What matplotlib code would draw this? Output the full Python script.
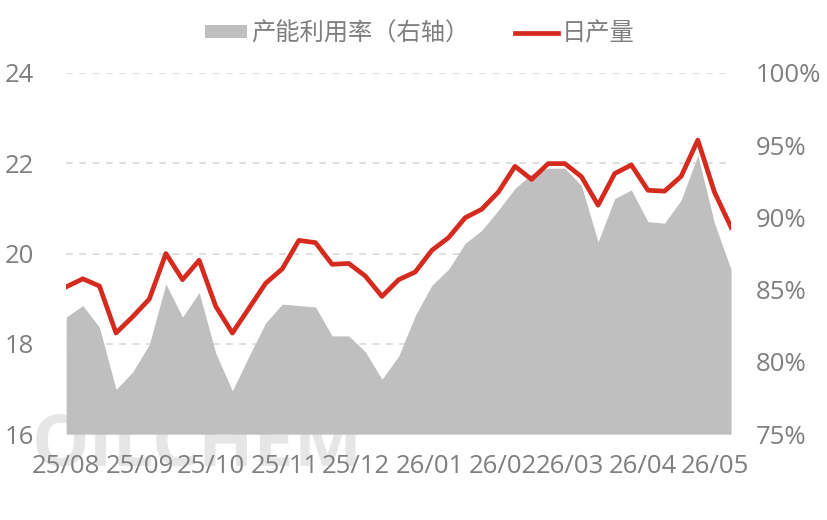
import matplotlib
matplotlib.use('Agg')
import matplotlib.pyplot as plt
import matplotlib.dates as mdates
from matplotlib.ticker import FuncFormatter
import pandas as pd

plt.rcParams['font.family'] = ['Open Sans', 'Noto Sans CJK SC', 'DejaVu Sans']

dates = pd.date_range('2025-08-01', periods=41, freq='7D')

# 日产量 (left axis)
output = [19.26, 19.44, 19.28, 18.24, 18.60, 18.99, 20.00, 19.42, 19.85, 18.83,
          18.24, 18.79, 19.34, 19.66, 20.29, 20.24, 19.76, 19.78, 19.50, 19.05,
          19.42, 19.59, 20.07, 20.35, 20.79, 20.98, 21.36, 21.93, 21.64, 21.99,
          21.99, 21.70, 21.07, 21.77, 21.96, 21.40, 21.38, 21.71, 22.51, 21.36,
          20.58]

# 产能利用率 (right axis, %)
util = [83.1, 83.9, 82.4, 78.1, 79.3, 81.2, 85.4, 83.1, 84.8, 80.6,
        78.0, 80.4, 82.7, 84.0, 83.9, 83.8, 81.8, 81.8, 80.7, 78.8,
        80.4, 83.2, 85.3, 86.4, 88.2, 89.1, 90.5, 92.0, 93.0, 93.4,
        93.4, 92.2, 88.3, 91.3, 91.9, 89.7, 89.6, 91.2, 94.3, 89.6,
        86.4]

txt = '#7f7f7f'
fig = plt.figure(figsize=(8.27, 5.2), dpi=100)
ax = fig.add_axes([0.080, 0.165, 0.804, 0.695])
ax2 = ax.twinx()

# watermark behind everything
fig.text(0.038, 0.142, 'OILCHEM', fontsize=52, fontweight='bold', color='#e6e6e6',
         ha='left', va='center', zorder=-1)

# dashed grid of the left axis, drawn under the area
for v in [18, 20, 22, 24]:
    ax2.axhline(75 + (v - 16) * 25 / 8, color='#d9d9d9', ls=(0, (4, 4)), lw=1.2, zorder=0)
ax2.fill_between(dates, util, 75, color='#bfbfbf', lw=0, zorder=1, label='产能利用率（右轴）')
ax2.set_ylim(75, 100)
ax2.set_yticks([75, 80, 85, 90, 95, 100])
ax2.yaxis.set_major_formatter(FuncFormatter(lambda v, p: f'{v:.0f}%'))

ax.plot(dates, output, color='#d52b1e', lw=3.4, label='日产量', zorder=5)
ax.set_ylim(16, 24)
ax.set_yticks([16, 18, 20, 22, 24])

ax.set_zorder(ax2.get_zorder() + 1)
ax.patch.set_visible(False)
ax2.patch.set_visible(False)

ax.set_xlim(dates[0], dates[-1])
ax.xaxis.set_major_locator(mdates.MonthLocator())
ax.xaxis.set_major_formatter(mdates.DateFormatter('%y/%m'))

for a in (ax, ax2):
    for s in a.spines.values():
        s.set_visible(False)
    a.tick_params(length=0, labelsize=18.5, colors=txt)
ax.tick_params(axis='y', pad=44)
ax.tick_params(axis='x', pad=14)
for lab in ax.get_yticklabels():
    lab.set_horizontalalignment('left')
ax2.tick_params(axis='y', pad=18)

h1, l1 = ax2.get_legend_handles_labels()
h2, l2 = ax.get_legend_handles_labels()
fig.legend(h1 + h2, l1 + l2, loc='center', bbox_to_anchor=(0.507, 0.934),
           ncol=2, frameon=False, fontsize=17.5, labelcolor=txt, handlelength=1.75,
           handleheight=0.45, handletextpad=0.15, columnspacing=1.9)

fig.savefig('out.png', dpi=100)
